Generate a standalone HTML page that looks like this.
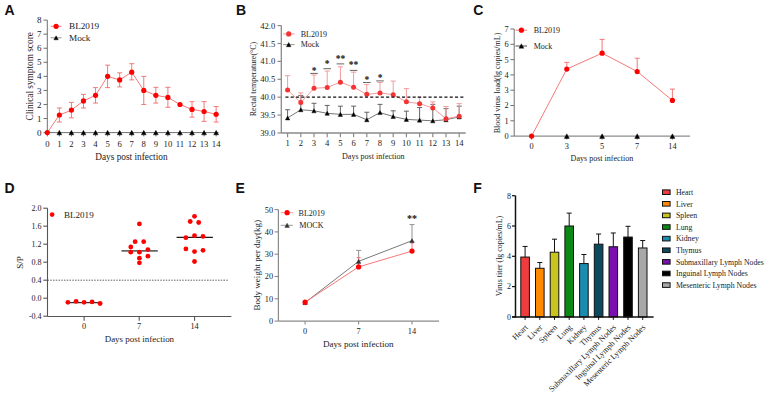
<!DOCTYPE html><html><head><meta charset="utf-8"><style>html,body{margin:0;padding:0;background:#fff;overflow:hidden}svg{display:block}text{font-family:"Liberation Serif",serif}</style></head><body>
<svg width="767" height="394" viewBox="0 0 767 394">
<rect width="767" height="394" fill="#fff"/>
<text x="4.5" y="14.7" font-size="14" font-weight="bold" fill="#111" style="font-family:'Liberation Sans',sans-serif">A</text>
<line x1="47.30" y1="20.12" x2="47.30" y2="132.60" stroke="#707070" stroke-width="1"/>
<line x1="47.30" y1="132.60" x2="218.60" y2="132.60" stroke="#707070" stroke-width="1"/>
<line x1="43.50" y1="132.60" x2="47.30" y2="132.60" stroke="#707070" stroke-width="1"/>
<text x="41.40" y="135.70" font-size="9" text-anchor="end" fill="#222">0</text>
<line x1="43.50" y1="118.54" x2="47.30" y2="118.54" stroke="#707070" stroke-width="1"/>
<text x="41.40" y="121.64" font-size="9" text-anchor="end" fill="#222">1</text>
<line x1="43.50" y1="104.48" x2="47.30" y2="104.48" stroke="#707070" stroke-width="1"/>
<text x="41.40" y="107.58" font-size="9" text-anchor="end" fill="#222">2</text>
<line x1="43.50" y1="90.42" x2="47.30" y2="90.42" stroke="#707070" stroke-width="1"/>
<text x="41.40" y="93.52" font-size="9" text-anchor="end" fill="#222">3</text>
<line x1="43.50" y1="76.36" x2="47.30" y2="76.36" stroke="#707070" stroke-width="1"/>
<text x="41.40" y="79.46" font-size="9" text-anchor="end" fill="#222">4</text>
<line x1="43.50" y1="62.30" x2="47.30" y2="62.30" stroke="#707070" stroke-width="1"/>
<text x="41.40" y="65.40" font-size="9" text-anchor="end" fill="#222">5</text>
<line x1="43.50" y1="48.24" x2="47.30" y2="48.24" stroke="#707070" stroke-width="1"/>
<text x="41.40" y="51.34" font-size="9" text-anchor="end" fill="#222">6</text>
<line x1="43.50" y1="34.18" x2="47.30" y2="34.18" stroke="#707070" stroke-width="1"/>
<text x="41.40" y="37.28" font-size="9" text-anchor="end" fill="#222">7</text>
<line x1="43.50" y1="20.12" x2="47.30" y2="20.12" stroke="#707070" stroke-width="1"/>
<text x="41.40" y="23.22" font-size="9" text-anchor="end" fill="#222">8</text>
<line x1="47.30" y1="132.60" x2="47.30" y2="136.40" stroke="#707070" stroke-width="1"/>
<text x="47.30" y="147.00" font-size="8.7" text-anchor="middle" fill="#222">0</text>
<line x1="59.36" y1="132.60" x2="59.36" y2="136.40" stroke="#707070" stroke-width="1"/>
<text x="59.36" y="147.00" font-size="8.7" text-anchor="middle" fill="#222">1</text>
<line x1="71.42" y1="132.60" x2="71.42" y2="136.40" stroke="#707070" stroke-width="1"/>
<text x="71.42" y="147.00" font-size="8.7" text-anchor="middle" fill="#222">2</text>
<line x1="83.48" y1="132.60" x2="83.48" y2="136.40" stroke="#707070" stroke-width="1"/>
<text x="83.48" y="147.00" font-size="8.7" text-anchor="middle" fill="#222">3</text>
<line x1="95.54" y1="132.60" x2="95.54" y2="136.40" stroke="#707070" stroke-width="1"/>
<text x="95.54" y="147.00" font-size="8.7" text-anchor="middle" fill="#222">4</text>
<line x1="107.60" y1="132.60" x2="107.60" y2="136.40" stroke="#707070" stroke-width="1"/>
<text x="107.60" y="147.00" font-size="8.7" text-anchor="middle" fill="#222">5</text>
<line x1="119.66" y1="132.60" x2="119.66" y2="136.40" stroke="#707070" stroke-width="1"/>
<text x="119.66" y="147.00" font-size="8.7" text-anchor="middle" fill="#222">6</text>
<line x1="131.72" y1="132.60" x2="131.72" y2="136.40" stroke="#707070" stroke-width="1"/>
<text x="131.72" y="147.00" font-size="8.7" text-anchor="middle" fill="#222">7</text>
<line x1="143.78" y1="132.60" x2="143.78" y2="136.40" stroke="#707070" stroke-width="1"/>
<text x="143.78" y="147.00" font-size="8.7" text-anchor="middle" fill="#222">8</text>
<line x1="155.84" y1="132.60" x2="155.84" y2="136.40" stroke="#707070" stroke-width="1"/>
<text x="155.84" y="147.00" font-size="8.7" text-anchor="middle" fill="#222">9</text>
<line x1="167.90" y1="132.60" x2="167.90" y2="136.40" stroke="#707070" stroke-width="1"/>
<text x="167.90" y="147.00" font-size="8.7" text-anchor="middle" fill="#222">10</text>
<line x1="179.96" y1="132.60" x2="179.96" y2="136.40" stroke="#707070" stroke-width="1"/>
<text x="179.96" y="147.00" font-size="8.7" text-anchor="middle" fill="#222">11</text>
<line x1="192.02" y1="132.60" x2="192.02" y2="136.40" stroke="#707070" stroke-width="1"/>
<text x="192.02" y="147.00" font-size="8.7" text-anchor="middle" fill="#222">12</text>
<line x1="204.08" y1="132.60" x2="204.08" y2="136.40" stroke="#707070" stroke-width="1"/>
<text x="204.08" y="147.00" font-size="8.7" text-anchor="middle" fill="#222">13</text>
<line x1="216.14" y1="132.60" x2="216.14" y2="136.40" stroke="#707070" stroke-width="1"/>
<text x="216.14" y="147.00" font-size="8.7" text-anchor="middle" fill="#222">14</text>
<text x="131.40" y="159.50" font-size="9.3" text-anchor="middle" fill="#222">Days post infection</text>
<text x="32.60" y="76.30" font-size="9.3" text-anchor="middle" fill="#222" transform="rotate(-90 32.6 76.3)">Clinical symptom score</text>
<polyline points="47.30,132.60 59.36,115.02 71.42,110.10 83.48,100.96 95.54,95.34 107.60,76.36 119.66,79.88 131.72,72.14 143.78,90.42 155.84,95.34 167.90,97.45 179.96,104.48 192.02,109.40 204.08,111.51 216.14,114.32" fill="none" stroke="#f36a6a" stroke-width="0.9"/>
<line x1="59.36" y1="115.02" x2="59.36" y2="107.99" stroke="#f36a6a" stroke-width="0.9"/>
<line x1="56.86" y1="107.99" x2="61.86" y2="107.99" stroke="#f36a6a" stroke-width="0.9"/>
<line x1="59.36" y1="115.02" x2="59.36" y2="122.05" stroke="#f36a6a" stroke-width="0.9"/>
<line x1="56.86" y1="122.05" x2="61.86" y2="122.05" stroke="#f36a6a" stroke-width="0.9"/>
<line x1="71.42" y1="110.10" x2="71.42" y2="102.37" stroke="#f36a6a" stroke-width="0.9"/>
<line x1="68.92" y1="102.37" x2="73.92" y2="102.37" stroke="#f36a6a" stroke-width="0.9"/>
<line x1="71.42" y1="110.10" x2="71.42" y2="117.84" stroke="#f36a6a" stroke-width="0.9"/>
<line x1="68.92" y1="117.84" x2="73.92" y2="117.84" stroke="#f36a6a" stroke-width="0.9"/>
<line x1="83.48" y1="100.96" x2="83.48" y2="94.36" stroke="#f36a6a" stroke-width="0.9"/>
<line x1="80.98" y1="94.36" x2="85.98" y2="94.36" stroke="#f36a6a" stroke-width="0.9"/>
<line x1="83.48" y1="100.96" x2="83.48" y2="107.99" stroke="#f36a6a" stroke-width="0.9"/>
<line x1="80.98" y1="107.99" x2="85.98" y2="107.99" stroke="#f36a6a" stroke-width="0.9"/>
<line x1="95.54" y1="95.34" x2="95.54" y2="87.61" stroke="#f36a6a" stroke-width="0.9"/>
<line x1="93.04" y1="87.61" x2="98.04" y2="87.61" stroke="#f36a6a" stroke-width="0.9"/>
<line x1="95.54" y1="95.34" x2="95.54" y2="103.07" stroke="#f36a6a" stroke-width="0.9"/>
<line x1="93.04" y1="103.07" x2="98.04" y2="103.07" stroke="#f36a6a" stroke-width="0.9"/>
<line x1="107.60" y1="76.36" x2="107.60" y2="65.11" stroke="#f36a6a" stroke-width="0.9"/>
<line x1="105.10" y1="65.11" x2="110.10" y2="65.11" stroke="#f36a6a" stroke-width="0.9"/>
<line x1="107.60" y1="76.36" x2="107.60" y2="87.61" stroke="#f36a6a" stroke-width="0.9"/>
<line x1="105.10" y1="87.61" x2="110.10" y2="87.61" stroke="#f36a6a" stroke-width="0.9"/>
<line x1="119.66" y1="79.88" x2="119.66" y2="72.84" stroke="#f36a6a" stroke-width="0.9"/>
<line x1="117.16" y1="72.84" x2="122.16" y2="72.84" stroke="#f36a6a" stroke-width="0.9"/>
<line x1="119.66" y1="79.88" x2="119.66" y2="86.91" stroke="#f36a6a" stroke-width="0.9"/>
<line x1="117.16" y1="86.91" x2="122.16" y2="86.91" stroke="#f36a6a" stroke-width="0.9"/>
<line x1="131.72" y1="72.14" x2="131.72" y2="63.71" stroke="#f36a6a" stroke-width="0.9"/>
<line x1="129.22" y1="63.71" x2="134.22" y2="63.71" stroke="#f36a6a" stroke-width="0.9"/>
<line x1="131.72" y1="72.14" x2="131.72" y2="79.88" stroke="#f36a6a" stroke-width="0.9"/>
<line x1="129.22" y1="79.88" x2="134.22" y2="79.88" stroke="#f36a6a" stroke-width="0.9"/>
<line x1="143.78" y1="90.42" x2="143.78" y2="76.36" stroke="#f36a6a" stroke-width="0.9"/>
<line x1="141.28" y1="76.36" x2="146.28" y2="76.36" stroke="#f36a6a" stroke-width="0.9"/>
<line x1="143.78" y1="90.42" x2="143.78" y2="104.48" stroke="#f36a6a" stroke-width="0.9"/>
<line x1="141.28" y1="104.48" x2="146.28" y2="104.48" stroke="#f36a6a" stroke-width="0.9"/>
<line x1="155.84" y1="95.34" x2="155.84" y2="87.33" stroke="#f36a6a" stroke-width="0.9"/>
<line x1="153.34" y1="87.33" x2="158.34" y2="87.33" stroke="#f36a6a" stroke-width="0.9"/>
<line x1="155.84" y1="95.34" x2="155.84" y2="103.07" stroke="#f36a6a" stroke-width="0.9"/>
<line x1="153.34" y1="103.07" x2="158.34" y2="103.07" stroke="#f36a6a" stroke-width="0.9"/>
<line x1="167.90" y1="97.45" x2="167.90" y2="87.33" stroke="#f36a6a" stroke-width="0.9"/>
<line x1="165.40" y1="87.33" x2="170.40" y2="87.33" stroke="#f36a6a" stroke-width="0.9"/>
<line x1="167.90" y1="97.45" x2="167.90" y2="107.29" stroke="#f36a6a" stroke-width="0.9"/>
<line x1="165.40" y1="107.29" x2="170.40" y2="107.29" stroke="#f36a6a" stroke-width="0.9"/>
<line x1="192.02" y1="109.40" x2="192.02" y2="101.67" stroke="#f36a6a" stroke-width="0.9"/>
<line x1="189.52" y1="101.67" x2="194.52" y2="101.67" stroke="#f36a6a" stroke-width="0.9"/>
<line x1="192.02" y1="109.40" x2="192.02" y2="117.13" stroke="#f36a6a" stroke-width="0.9"/>
<line x1="189.52" y1="117.13" x2="194.52" y2="117.13" stroke="#f36a6a" stroke-width="0.9"/>
<line x1="204.08" y1="111.51" x2="204.08" y2="101.67" stroke="#f36a6a" stroke-width="0.9"/>
<line x1="201.58" y1="101.67" x2="206.58" y2="101.67" stroke="#f36a6a" stroke-width="0.9"/>
<line x1="204.08" y1="111.51" x2="204.08" y2="121.35" stroke="#f36a6a" stroke-width="0.9"/>
<line x1="201.58" y1="121.35" x2="206.58" y2="121.35" stroke="#f36a6a" stroke-width="0.9"/>
<line x1="216.14" y1="114.32" x2="216.14" y2="106.59" stroke="#f36a6a" stroke-width="0.9"/>
<line x1="213.64" y1="106.59" x2="218.64" y2="106.59" stroke="#f36a6a" stroke-width="0.9"/>
<line x1="216.14" y1="114.32" x2="216.14" y2="122.05" stroke="#f36a6a" stroke-width="0.9"/>
<line x1="213.64" y1="122.05" x2="218.64" y2="122.05" stroke="#f36a6a" stroke-width="0.9"/>
<polygon points="56.91,134.85 61.81,134.85 59.36,130.35" fill="#000" stroke="#000" stroke-width="0.4" stroke-linejoin="miter"/>
<polygon points="68.97,134.85 73.87,134.85 71.42,130.35" fill="#000" stroke="#000" stroke-width="0.4" stroke-linejoin="miter"/>
<polygon points="81.03,134.85 85.93,134.85 83.48,130.35" fill="#000" stroke="#000" stroke-width="0.4" stroke-linejoin="miter"/>
<polygon points="93.09,134.85 97.99,134.85 95.54,130.35" fill="#000" stroke="#000" stroke-width="0.4" stroke-linejoin="miter"/>
<polygon points="105.15,134.85 110.05,134.85 107.60,130.35" fill="#000" stroke="#000" stroke-width="0.4" stroke-linejoin="miter"/>
<polygon points="117.21,134.85 122.11,134.85 119.66,130.35" fill="#000" stroke="#000" stroke-width="0.4" stroke-linejoin="miter"/>
<polygon points="129.27,134.85 134.17,134.85 131.72,130.35" fill="#000" stroke="#000" stroke-width="0.4" stroke-linejoin="miter"/>
<polygon points="141.33,134.85 146.23,134.85 143.78,130.35" fill="#000" stroke="#000" stroke-width="0.4" stroke-linejoin="miter"/>
<polygon points="153.39,134.85 158.29,134.85 155.84,130.35" fill="#000" stroke="#000" stroke-width="0.4" stroke-linejoin="miter"/>
<polygon points="165.45,134.85 170.35,134.85 167.90,130.35" fill="#000" stroke="#000" stroke-width="0.4" stroke-linejoin="miter"/>
<polygon points="177.51,134.85 182.41,134.85 179.96,130.35" fill="#000" stroke="#000" stroke-width="0.4" stroke-linejoin="miter"/>
<polygon points="189.57,134.85 194.47,134.85 192.02,130.35" fill="#000" stroke="#000" stroke-width="0.4" stroke-linejoin="miter"/>
<polygon points="201.63,134.85 206.53,134.85 204.08,130.35" fill="#000" stroke="#000" stroke-width="0.4" stroke-linejoin="miter"/>
<polygon points="213.69,134.85 218.59,134.85 216.14,130.35" fill="#000" stroke="#000" stroke-width="0.4" stroke-linejoin="miter"/>
<circle cx="47.30" cy="132.60" r="2.6" fill="#ff0000"/>
<circle cx="59.36" cy="115.02" r="2.6" fill="#ff0000"/>
<circle cx="71.42" cy="110.10" r="2.6" fill="#ff0000"/>
<circle cx="83.48" cy="100.96" r="2.6" fill="#ff0000"/>
<circle cx="95.54" cy="95.34" r="2.6" fill="#ff0000"/>
<circle cx="107.60" cy="76.36" r="2.6" fill="#ff0000"/>
<circle cx="119.66" cy="79.88" r="2.6" fill="#ff0000"/>
<circle cx="131.72" cy="72.14" r="2.6" fill="#ff0000"/>
<circle cx="143.78" cy="90.42" r="2.6" fill="#ff0000"/>
<circle cx="155.84" cy="95.34" r="2.6" fill="#ff0000"/>
<circle cx="167.90" cy="97.45" r="2.6" fill="#ff0000"/>
<circle cx="179.96" cy="104.48" r="2.6" fill="#ff0000"/>
<circle cx="192.02" cy="109.40" r="2.6" fill="#ff0000"/>
<circle cx="204.08" cy="111.51" r="2.6" fill="#ff0000"/>
<circle cx="216.14" cy="114.32" r="2.6" fill="#ff0000"/>
<line x1="50.70" y1="26.30" x2="61.50" y2="26.30" stroke="#f36a6a" stroke-width="0.9"/>
<circle cx="56.10" cy="26.30" r="2.6" fill="#ff0000"/>
<text x="69.00" y="29.30" font-size="9.2" text-anchor="start" fill="#222">BL2019</text>
<line x1="50.70" y1="37.80" x2="61.50" y2="37.80" stroke="#888" stroke-width="0.9"/>
<polygon points="53.90,39.82 58.30,39.82 56.10,35.78" fill="#000" stroke="#000" stroke-width="0.4" stroke-linejoin="miter"/>
<text x="69.00" y="40.80" font-size="9.2" text-anchor="start" fill="#222">Mock</text>
<text x="236.1" y="14.7" font-size="14" font-weight="bold" fill="#111" style="font-family:'Liberation Sans',sans-serif">B</text>
<line x1="281.30" y1="25.60" x2="281.30" y2="133.00" stroke="#8a8a8a" stroke-width="1.3"/>
<line x1="281.30" y1="133.00" x2="465.70" y2="133.00" stroke="#8a8a8a" stroke-width="1.3"/>
<line x1="277.50" y1="133.00" x2="281.30" y2="133.00" stroke="#8a8a8a" stroke-width="1.2"/>
<text x="275.30" y="136.00" font-size="8.6" text-anchor="end" fill="#222">39.0</text>
<line x1="277.50" y1="115.10" x2="281.30" y2="115.10" stroke="#8a8a8a" stroke-width="1.2"/>
<text x="275.30" y="118.10" font-size="8.6" text-anchor="end" fill="#222">39.5</text>
<line x1="277.50" y1="97.20" x2="281.30" y2="97.20" stroke="#8a8a8a" stroke-width="1.2"/>
<text x="275.30" y="100.20" font-size="8.6" text-anchor="end" fill="#222">40.0</text>
<line x1="277.50" y1="79.30" x2="281.30" y2="79.30" stroke="#8a8a8a" stroke-width="1.2"/>
<text x="275.30" y="82.30" font-size="8.6" text-anchor="end" fill="#222">40.5</text>
<line x1="277.50" y1="61.40" x2="281.30" y2="61.40" stroke="#8a8a8a" stroke-width="1.2"/>
<text x="275.30" y="64.40" font-size="8.6" text-anchor="end" fill="#222">41.0</text>
<line x1="277.50" y1="43.50" x2="281.30" y2="43.50" stroke="#8a8a8a" stroke-width="1.2"/>
<text x="275.30" y="46.50" font-size="8.6" text-anchor="end" fill="#222">41.5</text>
<line x1="277.50" y1="25.60" x2="281.30" y2="25.60" stroke="#8a8a8a" stroke-width="1.2"/>
<text x="275.30" y="28.60" font-size="8.6" text-anchor="end" fill="#222">42.0</text>
<line x1="287.60" y1="133.00" x2="287.60" y2="137.20" stroke="#8a8a8a" stroke-width="1.2"/>
<text x="287.60" y="145.50" font-size="8.6" text-anchor="middle" fill="#222">1</text>
<line x1="300.80" y1="133.00" x2="300.80" y2="137.20" stroke="#8a8a8a" stroke-width="1.2"/>
<text x="300.80" y="145.50" font-size="8.6" text-anchor="middle" fill="#222">2</text>
<line x1="314.00" y1="133.00" x2="314.00" y2="137.20" stroke="#8a8a8a" stroke-width="1.2"/>
<text x="314.00" y="145.50" font-size="8.6" text-anchor="middle" fill="#222">3</text>
<line x1="327.20" y1="133.00" x2="327.20" y2="137.20" stroke="#8a8a8a" stroke-width="1.2"/>
<text x="327.20" y="145.50" font-size="8.6" text-anchor="middle" fill="#222">4</text>
<line x1="340.40" y1="133.00" x2="340.40" y2="137.20" stroke="#8a8a8a" stroke-width="1.2"/>
<text x="340.40" y="145.50" font-size="8.6" text-anchor="middle" fill="#222">5</text>
<line x1="353.60" y1="133.00" x2="353.60" y2="137.20" stroke="#8a8a8a" stroke-width="1.2"/>
<text x="353.60" y="145.50" font-size="8.6" text-anchor="middle" fill="#222">6</text>
<line x1="366.80" y1="133.00" x2="366.80" y2="137.20" stroke="#8a8a8a" stroke-width="1.2"/>
<text x="366.80" y="145.50" font-size="8.6" text-anchor="middle" fill="#222">7</text>
<line x1="380.00" y1="133.00" x2="380.00" y2="137.20" stroke="#8a8a8a" stroke-width="1.2"/>
<text x="380.00" y="145.50" font-size="8.6" text-anchor="middle" fill="#222">8</text>
<line x1="393.20" y1="133.00" x2="393.20" y2="137.20" stroke="#8a8a8a" stroke-width="1.2"/>
<text x="393.20" y="145.50" font-size="8.6" text-anchor="middle" fill="#222">9</text>
<line x1="406.40" y1="133.00" x2="406.40" y2="137.20" stroke="#8a8a8a" stroke-width="1.2"/>
<text x="406.40" y="145.50" font-size="8.6" text-anchor="middle" fill="#222">10</text>
<line x1="419.60" y1="133.00" x2="419.60" y2="137.20" stroke="#8a8a8a" stroke-width="1.2"/>
<text x="419.60" y="145.50" font-size="8.6" text-anchor="middle" fill="#222">11</text>
<line x1="432.80" y1="133.00" x2="432.80" y2="137.20" stroke="#8a8a8a" stroke-width="1.2"/>
<text x="432.80" y="145.50" font-size="8.6" text-anchor="middle" fill="#222">12</text>
<line x1="446.00" y1="133.00" x2="446.00" y2="137.20" stroke="#8a8a8a" stroke-width="1.2"/>
<text x="446.00" y="145.50" font-size="8.6" text-anchor="middle" fill="#222">13</text>
<line x1="459.20" y1="133.00" x2="459.20" y2="137.20" stroke="#8a8a8a" stroke-width="1.2"/>
<text x="459.20" y="145.50" font-size="8.6" text-anchor="middle" fill="#222">14</text>
<text x="373.30" y="159.00" font-size="8.05" text-anchor="middle" fill="#222">Days post infection</text>
<text x="256.30" y="79.00" font-size="8.0" text-anchor="middle" fill="#222" transform="rotate(-90 256.3 79)">Rectal temperature(°C)</text>
<polyline points="287.60,117.96 300.80,109.73 314.00,110.80 327.20,113.31 340.40,114.38 353.60,114.38 366.80,119.75 380.00,112.59 393.20,116.53 406.40,119.40 419.60,120.11 432.80,120.83 446.00,119.75 459.20,116.89" fill="none" stroke="#777" stroke-width="1"/>
<line x1="287.60" y1="117.96" x2="287.60" y2="109.73" stroke="#555" stroke-width="0.9"/>
<line x1="285.10" y1="109.73" x2="290.10" y2="109.73" stroke="#555" stroke-width="0.9"/>
<line x1="300.80" y1="109.73" x2="300.80" y2="95.41" stroke="#555" stroke-width="0.9"/>
<line x1="298.30" y1="95.41" x2="303.30" y2="95.41" stroke="#555" stroke-width="0.9"/>
<line x1="314.00" y1="110.80" x2="314.00" y2="103.29" stroke="#555" stroke-width="0.9"/>
<line x1="311.50" y1="103.29" x2="316.50" y2="103.29" stroke="#555" stroke-width="0.9"/>
<line x1="327.20" y1="113.31" x2="327.20" y2="105.43" stroke="#555" stroke-width="0.9"/>
<line x1="324.70" y1="105.43" x2="329.70" y2="105.43" stroke="#555" stroke-width="0.9"/>
<line x1="340.40" y1="114.38" x2="340.40" y2="106.15" stroke="#555" stroke-width="0.9"/>
<line x1="337.90" y1="106.15" x2="342.90" y2="106.15" stroke="#555" stroke-width="0.9"/>
<line x1="353.60" y1="114.38" x2="353.60" y2="106.15" stroke="#555" stroke-width="0.9"/>
<line x1="351.10" y1="106.15" x2="356.10" y2="106.15" stroke="#555" stroke-width="0.9"/>
<line x1="366.80" y1="119.75" x2="366.80" y2="112.24" stroke="#555" stroke-width="0.9"/>
<line x1="364.30" y1="112.24" x2="369.30" y2="112.24" stroke="#555" stroke-width="0.9"/>
<line x1="380.00" y1="112.59" x2="380.00" y2="104.36" stroke="#555" stroke-width="0.9"/>
<line x1="377.50" y1="104.36" x2="382.50" y2="104.36" stroke="#555" stroke-width="0.9"/>
<line x1="393.20" y1="116.53" x2="393.20" y2="110.80" stroke="#555" stroke-width="0.9"/>
<line x1="390.70" y1="110.80" x2="395.70" y2="110.80" stroke="#555" stroke-width="0.9"/>
<line x1="406.40" y1="119.40" x2="406.40" y2="111.16" stroke="#555" stroke-width="0.9"/>
<line x1="403.90" y1="111.16" x2="408.90" y2="111.16" stroke="#555" stroke-width="0.9"/>
<line x1="419.60" y1="120.11" x2="419.60" y2="107.58" stroke="#555" stroke-width="0.9"/>
<line x1="417.10" y1="107.58" x2="422.10" y2="107.58" stroke="#555" stroke-width="0.9"/>
<line x1="432.80" y1="120.83" x2="432.80" y2="104.36" stroke="#555" stroke-width="0.9"/>
<line x1="430.30" y1="104.36" x2="435.30" y2="104.36" stroke="#555" stroke-width="0.9"/>
<line x1="446.00" y1="119.75" x2="446.00" y2="108.66" stroke="#555" stroke-width="0.9"/>
<line x1="443.50" y1="108.66" x2="448.50" y2="108.66" stroke="#555" stroke-width="0.9"/>
<line x1="459.20" y1="116.89" x2="459.20" y2="106.15" stroke="#555" stroke-width="0.9"/>
<line x1="456.70" y1="106.15" x2="461.70" y2="106.15" stroke="#555" stroke-width="0.9"/>
<polygon points="285.40,119.99 289.80,119.99 287.60,115.94" fill="#000" stroke="#000" stroke-width="0.4" stroke-linejoin="miter"/>
<polygon points="298.60,111.75 303.00,111.75 300.80,107.71" fill="#000" stroke="#000" stroke-width="0.4" stroke-linejoin="miter"/>
<polygon points="311.80,112.83 316.20,112.83 314.00,108.78" fill="#000" stroke="#000" stroke-width="0.4" stroke-linejoin="miter"/>
<polygon points="325.00,115.33 329.40,115.33 327.20,111.29" fill="#000" stroke="#000" stroke-width="0.4" stroke-linejoin="miter"/>
<polygon points="338.20,116.41 342.60,116.41 340.40,112.36" fill="#000" stroke="#000" stroke-width="0.4" stroke-linejoin="miter"/>
<polygon points="351.40,116.41 355.80,116.41 353.60,112.36" fill="#000" stroke="#000" stroke-width="0.4" stroke-linejoin="miter"/>
<polygon points="364.60,121.78 369.00,121.78 366.80,117.73" fill="#000" stroke="#000" stroke-width="0.4" stroke-linejoin="miter"/>
<polygon points="377.80,114.62 382.20,114.62 380.00,110.57" fill="#000" stroke="#000" stroke-width="0.4" stroke-linejoin="miter"/>
<polygon points="391.00,118.56 395.40,118.56 393.20,114.51" fill="#000" stroke="#000" stroke-width="0.4" stroke-linejoin="miter"/>
<polygon points="404.20,121.42 408.60,121.42 406.40,117.37" fill="#000" stroke="#000" stroke-width="0.4" stroke-linejoin="miter"/>
<polygon points="417.40,122.14 421.80,122.14 419.60,118.09" fill="#000" stroke="#000" stroke-width="0.4" stroke-linejoin="miter"/>
<polygon points="430.60,122.85 435.00,122.85 432.80,118.80" fill="#000" stroke="#000" stroke-width="0.4" stroke-linejoin="miter"/>
<polygon points="443.80,121.78 448.20,121.78 446.00,117.73" fill="#000" stroke="#000" stroke-width="0.4" stroke-linejoin="miter"/>
<polygon points="457.00,118.91 461.40,118.91 459.20,114.87" fill="#000" stroke="#000" stroke-width="0.4" stroke-linejoin="miter"/>
<polyline points="287.60,90.04 300.80,102.57 314.00,88.25 327.20,87.53 340.40,82.16 353.60,87.18 366.80,94.34 380.00,92.90 393.20,94.69 406.40,101.85 419.60,103.64 432.80,107.94 446.00,118.68 459.20,116.17" fill="none" stroke="#f49a9e" stroke-width="1"/>
<line x1="287.60" y1="90.04" x2="287.60" y2="75.72" stroke="#f49a9e" stroke-width="1"/>
<line x1="285.00" y1="75.72" x2="290.20" y2="75.72" stroke="#f49a9e" stroke-width="1"/>
<line x1="300.80" y1="102.57" x2="300.80" y2="92.90" stroke="#f49a9e" stroke-width="1"/>
<line x1="298.20" y1="92.90" x2="303.40" y2="92.90" stroke="#f49a9e" stroke-width="1"/>
<line x1="314.00" y1="88.25" x2="314.00" y2="75.00" stroke="#f49a9e" stroke-width="1"/>
<line x1="311.40" y1="75.00" x2="316.60" y2="75.00" stroke="#f49a9e" stroke-width="1"/>
<line x1="327.20" y1="87.53" x2="327.20" y2="71.07" stroke="#f49a9e" stroke-width="1"/>
<line x1="324.60" y1="71.07" x2="329.80" y2="71.07" stroke="#f49a9e" stroke-width="1"/>
<line x1="340.40" y1="82.16" x2="340.40" y2="66.77" stroke="#f49a9e" stroke-width="1"/>
<line x1="337.80" y1="66.77" x2="343.00" y2="66.77" stroke="#f49a9e" stroke-width="1"/>
<line x1="353.60" y1="87.18" x2="353.60" y2="72.14" stroke="#f49a9e" stroke-width="1"/>
<line x1="351.00" y1="72.14" x2="356.20" y2="72.14" stroke="#f49a9e" stroke-width="1"/>
<line x1="366.80" y1="94.34" x2="366.80" y2="84.67" stroke="#f49a9e" stroke-width="1"/>
<line x1="364.20" y1="84.67" x2="369.40" y2="84.67" stroke="#f49a9e" stroke-width="1"/>
<line x1="380.00" y1="92.90" x2="380.00" y2="82.52" stroke="#f49a9e" stroke-width="1"/>
<line x1="377.40" y1="82.52" x2="382.60" y2="82.52" stroke="#f49a9e" stroke-width="1"/>
<line x1="393.20" y1="94.69" x2="393.20" y2="81.09" stroke="#f49a9e" stroke-width="1"/>
<line x1="390.60" y1="81.09" x2="395.80" y2="81.09" stroke="#f49a9e" stroke-width="1"/>
<line x1="406.40" y1="101.85" x2="406.40" y2="88.61" stroke="#f49a9e" stroke-width="1"/>
<line x1="403.80" y1="88.61" x2="409.00" y2="88.61" stroke="#f49a9e" stroke-width="1"/>
<line x1="419.60" y1="103.64" x2="419.60" y2="97.20" stroke="#f49a9e" stroke-width="1"/>
<line x1="417.00" y1="97.20" x2="422.20" y2="97.20" stroke="#f49a9e" stroke-width="1"/>
<line x1="432.80" y1="107.94" x2="432.80" y2="101.85" stroke="#f49a9e" stroke-width="1"/>
<line x1="430.20" y1="101.85" x2="435.40" y2="101.85" stroke="#f49a9e" stroke-width="1"/>
<line x1="446.00" y1="118.68" x2="446.00" y2="106.51" stroke="#f49a9e" stroke-width="1"/>
<line x1="443.40" y1="106.51" x2="448.60" y2="106.51" stroke="#f49a9e" stroke-width="1"/>
<line x1="459.20" y1="116.17" x2="459.20" y2="103.64" stroke="#f49a9e" stroke-width="1"/>
<line x1="456.60" y1="103.64" x2="461.80" y2="103.64" stroke="#f49a9e" stroke-width="1"/>
<circle cx="287.60" cy="90.04" r="2.5" fill="#f23434"/>
<circle cx="300.80" cy="102.57" r="2.5" fill="#f23434"/>
<circle cx="314.00" cy="88.25" r="2.5" fill="#f23434"/>
<circle cx="327.20" cy="87.53" r="2.5" fill="#f23434"/>
<circle cx="340.40" cy="82.16" r="2.5" fill="#f23434"/>
<circle cx="353.60" cy="87.18" r="2.5" fill="#f23434"/>
<circle cx="366.80" cy="94.34" r="2.5" fill="#f23434"/>
<circle cx="380.00" cy="92.90" r="2.5" fill="#f23434"/>
<circle cx="393.20" cy="94.69" r="2.5" fill="#f23434"/>
<circle cx="406.40" cy="101.85" r="2.5" fill="#f23434"/>
<circle cx="419.60" cy="103.64" r="2.5" fill="#f23434"/>
<circle cx="432.80" cy="107.94" r="2.5" fill="#f23434"/>
<circle cx="446.00" cy="118.68" r="2.5" fill="#f23434"/>
<circle cx="459.20" cy="116.17" r="2.5" fill="#f23434"/>
<line x1="283.60" y1="97.20" x2="463.50" y2="97.20" stroke="#111" stroke-width="1.3" stroke-dasharray="3.1,2.2" stroke-dashoffset="3.5"/>
<line x1="310.20" y1="73.40" x2="317.80" y2="73.40" stroke="#666" stroke-width="1.0"/>
<text x="314.00" y="73.80" font-size="9.5" text-anchor="middle" fill="#111" font-weight="bold">*</text>
<line x1="323.40" y1="68.70" x2="331.00" y2="68.70" stroke="#666" stroke-width="1.0"/>
<text x="327.20" y="67.10" font-size="9.5" text-anchor="middle" fill="#111" font-weight="bold">*</text>
<line x1="336.60" y1="63.90" x2="344.20" y2="63.90" stroke="#666" stroke-width="1.0"/>
<text x="340.40" y="62.00" font-size="9.5" text-anchor="middle" fill="#111" font-weight="bold">**</text>
<line x1="349.80" y1="70.40" x2="357.40" y2="70.40" stroke="#666" stroke-width="1.0"/>
<text x="353.60" y="68.40" font-size="9.5" text-anchor="middle" fill="#111" font-weight="bold">**</text>
<line x1="363.00" y1="82.50" x2="370.60" y2="82.50" stroke="#666" stroke-width="1.0"/>
<text x="366.80" y="82.50" font-size="9.5" text-anchor="middle" fill="#111" font-weight="bold">*</text>
<line x1="376.20" y1="80.90" x2="383.80" y2="80.90" stroke="#666" stroke-width="1.0"/>
<text x="380.00" y="81.20" font-size="9.5" text-anchor="middle" fill="#111" font-weight="bold">*</text>
<line x1="283.00" y1="33.90" x2="294.50" y2="33.90" stroke="#f49a9e" stroke-width="1"/>
<circle cx="288.70" cy="33.90" r="2.6" fill="#f23434"/>
<text x="300.70" y="36.80" font-size="8.0" text-anchor="start" fill="#222">BL2019</text>
<line x1="283.00" y1="44.60" x2="294.50" y2="44.60" stroke="#888" stroke-width="0.9"/>
<polygon points="286.40,46.72 291.00,46.72 288.70,42.48" fill="#000" stroke="#000" stroke-width="0.4" stroke-linejoin="miter"/>
<text x="300.70" y="47.30" font-size="8.0" text-anchor="start" fill="#222">Mock</text>
<text x="473.2" y="14.7" font-size="14" font-weight="bold" fill="#111" style="font-family:'Liberation Sans',sans-serif">C</text>
<line x1="514.20" y1="29.00" x2="514.20" y2="136.10" stroke="#707070" stroke-width="1"/>
<line x1="514.20" y1="136.10" x2="690.00" y2="136.10" stroke="#707070" stroke-width="1"/>
<line x1="510.40" y1="136.10" x2="514.20" y2="136.10" stroke="#707070" stroke-width="1"/>
<text x="508.60" y="139.00" font-size="8.3" text-anchor="end" fill="#222">0</text>
<line x1="510.40" y1="120.80" x2="514.20" y2="120.80" stroke="#707070" stroke-width="1"/>
<text x="508.60" y="123.70" font-size="8.3" text-anchor="end" fill="#222">1</text>
<line x1="510.40" y1="105.50" x2="514.20" y2="105.50" stroke="#707070" stroke-width="1"/>
<text x="508.60" y="108.40" font-size="8.3" text-anchor="end" fill="#222">2</text>
<line x1="510.40" y1="90.20" x2="514.20" y2="90.20" stroke="#707070" stroke-width="1"/>
<text x="508.60" y="93.10" font-size="8.3" text-anchor="end" fill="#222">3</text>
<line x1="510.40" y1="74.90" x2="514.20" y2="74.90" stroke="#707070" stroke-width="1"/>
<text x="508.60" y="77.80" font-size="8.3" text-anchor="end" fill="#222">4</text>
<line x1="510.40" y1="59.60" x2="514.20" y2="59.60" stroke="#707070" stroke-width="1"/>
<text x="508.60" y="62.50" font-size="8.3" text-anchor="end" fill="#222">5</text>
<line x1="510.40" y1="44.30" x2="514.20" y2="44.30" stroke="#707070" stroke-width="1"/>
<text x="508.60" y="47.20" font-size="8.3" text-anchor="end" fill="#222">6</text>
<line x1="510.40" y1="29.00" x2="514.20" y2="29.00" stroke="#707070" stroke-width="1"/>
<text x="508.60" y="31.90" font-size="8.3" text-anchor="end" fill="#222">7</text>
<line x1="531.60" y1="136.10" x2="531.60" y2="139.60" stroke="#707070" stroke-width="1"/>
<text x="531.60" y="148.70" font-size="8.3" text-anchor="middle" fill="#222">0</text>
<line x1="566.80" y1="136.10" x2="566.80" y2="139.60" stroke="#707070" stroke-width="1"/>
<text x="566.80" y="148.70" font-size="8.3" text-anchor="middle" fill="#222">3</text>
<line x1="602.10" y1="136.10" x2="602.10" y2="139.60" stroke="#707070" stroke-width="1"/>
<text x="602.10" y="148.70" font-size="8.3" text-anchor="middle" fill="#222">5</text>
<line x1="637.20" y1="136.10" x2="637.20" y2="139.60" stroke="#707070" stroke-width="1"/>
<text x="637.20" y="148.70" font-size="8.3" text-anchor="middle" fill="#222">7</text>
<line x1="672.40" y1="136.10" x2="672.40" y2="139.60" stroke="#707070" stroke-width="1"/>
<text x="672.40" y="148.70" font-size="8.3" text-anchor="middle" fill="#222">14</text>
<text x="601.90" y="161.00" font-size="8.05" text-anchor="middle" fill="#222">Days post infection</text>
<text x="499.80" y="83.00" font-size="8.0" text-anchor="middle" fill="#222" transform="rotate(-90 499.8 83)">Blood virus load(lg copies/mL)</text>
<polyline points="531.60,136.10 566.80,69.09 602.10,53.17 637.20,71.53 672.40,100.45" fill="none" stroke="#f36a6a" stroke-width="0.9"/>
<line x1="566.80" y1="69.09" x2="566.80" y2="62.35" stroke="#f36a6a" stroke-width="0.9"/>
<line x1="564.30" y1="62.35" x2="569.30" y2="62.35" stroke="#f36a6a" stroke-width="0.9"/>
<line x1="602.10" y1="53.17" x2="602.10" y2="39.40" stroke="#f36a6a" stroke-width="0.9"/>
<line x1="599.60" y1="39.40" x2="604.60" y2="39.40" stroke="#f36a6a" stroke-width="0.9"/>
<line x1="637.20" y1="71.53" x2="637.20" y2="58.22" stroke="#f36a6a" stroke-width="0.9"/>
<line x1="634.70" y1="58.22" x2="639.70" y2="58.22" stroke="#f36a6a" stroke-width="0.9"/>
<line x1="672.40" y1="100.45" x2="672.40" y2="89.13" stroke="#f36a6a" stroke-width="0.9"/>
<line x1="669.90" y1="89.13" x2="674.90" y2="89.13" stroke="#f36a6a" stroke-width="0.9"/>
<polygon points="564.30,138.40 569.30,138.40 566.80,133.80" fill="#000" stroke="#000" stroke-width="0.4" stroke-linejoin="miter"/>
<polygon points="599.60,138.40 604.60,138.40 602.10,133.80" fill="#000" stroke="#000" stroke-width="0.4" stroke-linejoin="miter"/>
<polygon points="634.70,138.40 639.70,138.40 637.20,133.80" fill="#000" stroke="#000" stroke-width="0.4" stroke-linejoin="miter"/>
<polygon points="669.90,138.40 674.90,138.40 672.40,133.80" fill="#000" stroke="#000" stroke-width="0.4" stroke-linejoin="miter"/>
<circle cx="531.60" cy="136.10" r="2.6" fill="#ff0000"/>
<circle cx="566.80" cy="69.09" r="2.6" fill="#ff0000"/>
<circle cx="602.10" cy="53.17" r="2.6" fill="#ff0000"/>
<circle cx="637.20" cy="71.53" r="2.6" fill="#ff0000"/>
<circle cx="672.40" cy="100.45" r="2.6" fill="#ff0000"/>
<line x1="515.50" y1="30.20" x2="527.00" y2="30.20" stroke="#f36a6a" stroke-width="0.9"/>
<circle cx="521.40" cy="30.20" r="2.6" fill="#ff0000"/>
<text x="533.70" y="33.10" font-size="8.0" text-anchor="start" fill="#222">BL2019</text>
<line x1="515.50" y1="46.00" x2="527.00" y2="46.00" stroke="#333" stroke-width="0.9"/>
<polygon points="519.00,48.21 523.80,48.21 521.40,43.79" fill="#000" stroke="#000" stroke-width="0.4" stroke-linejoin="miter"/>
<text x="533.70" y="48.90" font-size="8.0" text-anchor="start" fill="#222">Mock</text>
<text x="4.6" y="192.9" font-size="14" font-weight="bold" fill="#111" style="font-family:'Liberation Sans',sans-serif">D</text>
<line x1="47.50" y1="208.20" x2="47.50" y2="316.50" stroke="#555" stroke-width="1.1"/>
<line x1="47.50" y1="316.50" x2="231.40" y2="316.50" stroke="#555" stroke-width="1.1"/>
<line x1="43.30" y1="316.20" x2="47.50" y2="316.20" stroke="#555" stroke-width="1.1"/>
<text x="41.60" y="319.40" font-size="8.0" text-anchor="end" fill="#222">-0.4</text>
<line x1="43.30" y1="298.20" x2="47.50" y2="298.20" stroke="#555" stroke-width="1.1"/>
<text x="41.60" y="301.40" font-size="8.0" text-anchor="end" fill="#222">0.0</text>
<line x1="43.30" y1="280.20" x2="47.50" y2="280.20" stroke="#555" stroke-width="1.1"/>
<text x="41.60" y="283.40" font-size="8.0" text-anchor="end" fill="#222">0.4</text>
<line x1="43.30" y1="262.20" x2="47.50" y2="262.20" stroke="#555" stroke-width="1.1"/>
<text x="41.60" y="265.40" font-size="8.0" text-anchor="end" fill="#222">0.8</text>
<line x1="43.30" y1="244.20" x2="47.50" y2="244.20" stroke="#555" stroke-width="1.1"/>
<text x="41.60" y="247.40" font-size="8.0" text-anchor="end" fill="#222">1.2</text>
<line x1="43.30" y1="226.20" x2="47.50" y2="226.20" stroke="#555" stroke-width="1.1"/>
<text x="41.60" y="229.40" font-size="8.0" text-anchor="end" fill="#222">1.6</text>
<line x1="43.30" y1="208.20" x2="47.50" y2="208.20" stroke="#555" stroke-width="1.1"/>
<text x="41.60" y="211.40" font-size="8.0" text-anchor="end" fill="#222">2.0</text>
<line x1="84.10" y1="316.50" x2="84.10" y2="320.70" stroke="#555" stroke-width="1.1"/>
<text x="84.10" y="329.20" font-size="8.3" text-anchor="middle" fill="#222">0</text>
<line x1="139.20" y1="316.50" x2="139.20" y2="320.70" stroke="#555" stroke-width="1.1"/>
<text x="139.20" y="329.20" font-size="8.3" text-anchor="middle" fill="#222">7</text>
<line x1="194.60" y1="316.50" x2="194.60" y2="320.70" stroke="#555" stroke-width="1.1"/>
<text x="194.60" y="329.20" font-size="8.3" text-anchor="middle" fill="#222">14</text>
<text x="139.40" y="342.20" font-size="8.93" text-anchor="middle" fill="#222">Days post infection</text>
<text x="23.20" y="262.60" font-size="9.0" text-anchor="middle" fill="#222" transform="rotate(-90 23.2 262.6)">S/P</text>
<line x1="47.50" y1="280.20" x2="227.80" y2="280.20" stroke="#444" stroke-width="0.85" stroke-dasharray="1.5,1.25"/>
<line x1="67.00" y1="302.60" x2="101.00" y2="302.60" stroke="#333" stroke-width="1.4"/>
<line x1="121.50" y1="250.90" x2="157.80" y2="250.90" stroke="#666" stroke-width="1.6"/>
<line x1="176.60" y1="237.30" x2="212.90" y2="237.30" stroke="#1a1a1a" stroke-width="1.2"/>
<circle cx="67.90" cy="302.30" r="2.4" fill="#ff0000"/>
<circle cx="76.10" cy="301.40" r="2.4" fill="#ff0000"/>
<circle cx="84.10" cy="302.30" r="2.4" fill="#ff0000"/>
<circle cx="92.10" cy="301.90" r="2.4" fill="#ff0000"/>
<circle cx="100.10" cy="303.50" r="2.4" fill="#ff0000"/>
<circle cx="139.40" cy="223.90" r="2.4" fill="#ff0000"/>
<circle cx="135.10" cy="241.70" r="2.4" fill="#ff0000"/>
<circle cx="143.70" cy="241.70" r="2.4" fill="#ff0000"/>
<circle cx="130.80" cy="247.00" r="2.4" fill="#ff0000"/>
<circle cx="130.80" cy="252.20" r="2.4" fill="#ff0000"/>
<circle cx="139.40" cy="252.20" r="2.4" fill="#ff0000"/>
<circle cx="147.90" cy="249.60" r="2.4" fill="#ff0000"/>
<circle cx="147.90" cy="256.20" r="2.4" fill="#ff0000"/>
<circle cx="139.40" cy="258.20" r="2.4" fill="#ff0000"/>
<circle cx="139.40" cy="262.80" r="2.4" fill="#ff0000"/>
<circle cx="194.50" cy="216.30" r="2.4" fill="#ff0000"/>
<circle cx="190.20" cy="221.50" r="2.4" fill="#ff0000"/>
<circle cx="198.70" cy="222.50" r="2.4" fill="#ff0000"/>
<circle cx="185.90" cy="237.70" r="2.4" fill="#ff0000"/>
<circle cx="194.50" cy="235.70" r="2.4" fill="#ff0000"/>
<circle cx="203.00" cy="236.40" r="2.4" fill="#ff0000"/>
<circle cx="185.90" cy="248.90" r="2.4" fill="#ff0000"/>
<circle cx="194.50" cy="251.60" r="2.4" fill="#ff0000"/>
<circle cx="203.00" cy="250.30" r="2.4" fill="#ff0000"/>
<circle cx="194.50" cy="261.50" r="2.4" fill="#ff0000"/>
<circle cx="52.10" cy="214.60" r="2.3" fill="#ff0000"/>
<text x="64.00" y="217.70" font-size="9.06" text-anchor="start" fill="#222">BL2019</text>
<text x="235.5" y="192.9" font-size="14" font-weight="bold" fill="#111" style="font-family:'Liberation Sans',sans-serif">E</text>
<line x1="278.40" y1="209.60" x2="278.40" y2="321.10" stroke="#8a8a8a" stroke-width="1.2"/>
<line x1="278.40" y1="321.10" x2="439.00" y2="321.10" stroke="#8a8a8a" stroke-width="1.2"/>
<line x1="274.60" y1="321.10" x2="278.40" y2="321.10" stroke="#8a8a8a" stroke-width="1.1"/>
<text x="273.10" y="324.00" font-size="8.3" text-anchor="end" fill="#222">0</text>
<line x1="274.60" y1="298.80" x2="278.40" y2="298.80" stroke="#8a8a8a" stroke-width="1.1"/>
<text x="273.10" y="301.70" font-size="8.3" text-anchor="end" fill="#222">10</text>
<line x1="274.60" y1="276.50" x2="278.40" y2="276.50" stroke="#8a8a8a" stroke-width="1.1"/>
<text x="273.10" y="279.40" font-size="8.3" text-anchor="end" fill="#222">20</text>
<line x1="274.60" y1="254.20" x2="278.40" y2="254.20" stroke="#8a8a8a" stroke-width="1.1"/>
<text x="273.10" y="257.10" font-size="8.3" text-anchor="end" fill="#222">30</text>
<line x1="274.60" y1="231.90" x2="278.40" y2="231.90" stroke="#8a8a8a" stroke-width="1.1"/>
<text x="273.10" y="234.80" font-size="8.3" text-anchor="end" fill="#222">40</text>
<line x1="274.60" y1="209.60" x2="278.40" y2="209.60" stroke="#8a8a8a" stroke-width="1.1"/>
<text x="273.10" y="212.50" font-size="8.3" text-anchor="end" fill="#222">50</text>
<line x1="305.10" y1="321.10" x2="305.10" y2="324.40" stroke="#8a8a8a" stroke-width="1.1"/>
<text x="305.10" y="334.10" font-size="8.3" text-anchor="middle" fill="#222">0</text>
<line x1="358.60" y1="321.10" x2="358.60" y2="324.40" stroke="#8a8a8a" stroke-width="1.1"/>
<text x="358.60" y="334.10" font-size="8.3" text-anchor="middle" fill="#222">7</text>
<line x1="412.00" y1="321.10" x2="412.00" y2="324.40" stroke="#8a8a8a" stroke-width="1.1"/>
<text x="412.00" y="334.10" font-size="8.3" text-anchor="middle" fill="#222">14</text>
<text x="358.30" y="347.00" font-size="9.1" text-anchor="middle" fill="#222">Days post infection</text>
<text x="259.90" y="265.20" font-size="9.05" text-anchor="middle" fill="#222" transform="rotate(-90 259.9 265.2)">Body weight per day(kg)</text>
<polyline points="305.10,302.59 358.60,261.34 412.00,240.71" fill="none" stroke="#6a6a6a" stroke-width="0.9"/>
<line x1="358.60" y1="261.34" x2="358.60" y2="250.41" stroke="#9a9a9a" stroke-width="1.1"/>
<line x1="356.10" y1="250.41" x2="361.10" y2="250.41" stroke="#9a9a9a" stroke-width="1.1"/>
<line x1="412.00" y1="240.71" x2="412.00" y2="224.54" stroke="#9a9a9a" stroke-width="1.1"/>
<line x1="409.50" y1="224.54" x2="414.50" y2="224.54" stroke="#9a9a9a" stroke-width="1.1"/>
<polyline points="305.10,302.15 358.60,266.91 412.00,251.08" fill="none" stroke="#f36a6a" stroke-width="0.9"/>
<line x1="358.60" y1="266.91" x2="358.60" y2="257.55" stroke="#f36a6a" stroke-width="0.9"/>
<line x1="356.60" y1="257.55" x2="360.60" y2="257.55" stroke="#f36a6a" stroke-width="0.9"/>
<line x1="412.00" y1="251.08" x2="412.00" y2="241.94" stroke="#f36a6a" stroke-width="0.9"/>
<line x1="410.00" y1="241.94" x2="414.00" y2="241.94" stroke="#f36a6a" stroke-width="0.9"/>
<polygon points="302.80,304.71 307.40,304.71 305.10,300.48" fill="#333" stroke="#333" stroke-width="0.4" stroke-linejoin="miter"/>
<polygon points="356.30,263.45 360.90,263.45 358.60,259.22" fill="#333" stroke="#333" stroke-width="0.4" stroke-linejoin="miter"/>
<polygon points="409.70,242.82 414.30,242.82 412.00,238.59" fill="#333" stroke="#333" stroke-width="0.4" stroke-linejoin="miter"/>
<circle cx="305.10" cy="302.15" r="2.6" fill="#ff0000"/>
<circle cx="358.60" cy="266.91" r="2.6" fill="#ff0000"/>
<circle cx="412.00" cy="251.08" r="2.6" fill="#ff0000"/>
<text x="412.00" y="222.00" font-size="10" text-anchor="middle" fill="#111" font-weight="bold">**</text>
<line x1="280.70" y1="212.70" x2="292.90" y2="212.70" stroke="#f59a9a" stroke-width="1"/>
<circle cx="287.10" cy="212.70" r="2.6" fill="#ff0000"/>
<text x="298.60" y="215.60" font-size="8.0" text-anchor="start" fill="#222">BL2019</text>
<line x1="280.70" y1="225.30" x2="292.90" y2="225.30" stroke="#999" stroke-width="1"/>
<polygon points="284.80,227.42 289.40,227.42 287.10,223.18" fill="#333" stroke="#333" stroke-width="0.4" stroke-linejoin="miter"/>
<text x="299.30" y="228.20" font-size="8.1" text-anchor="start" fill="#222">MOCK</text>
<text x="473.2" y="192.9" font-size="14" font-weight="bold" fill="#111" style="font-family:'Liberation Sans',sans-serif">F</text>
<line x1="525.10" y1="257.06" x2="525.10" y2="246.45" stroke="#111" stroke-width="1"/>
<line x1="522.60" y1="246.45" x2="527.60" y2="246.45" stroke="#111" stroke-width="1"/>
<rect x="520.80" y="257.06" width="8.6" height="59.84" fill="#f03c3c" stroke="#111" stroke-width="1"/>
<line x1="525.10" y1="316.90" x2="525.10" y2="319.90" stroke="#111" stroke-width="1"/>
<text x="528.30" y="327.80" font-size="8.1" text-anchor="end" fill="#222" transform="rotate(-45 528.3000000000001 327.8)">Heart</text>
<line x1="539.80" y1="268.27" x2="539.80" y2="262.51" stroke="#111" stroke-width="1"/>
<line x1="537.30" y1="262.51" x2="542.30" y2="262.51" stroke="#111" stroke-width="1"/>
<rect x="535.50" y="268.27" width="8.6" height="48.63" fill="#ff8a00" stroke="#111" stroke-width="1"/>
<line x1="539.80" y1="316.90" x2="539.80" y2="319.90" stroke="#111" stroke-width="1"/>
<text x="543.00" y="327.80" font-size="8.1" text-anchor="end" fill="#222" transform="rotate(-45 543.0000000000001 327.8)">Liver</text>
<line x1="554.50" y1="252.21" x2="554.50" y2="239.18" stroke="#111" stroke-width="1"/>
<line x1="552.00" y1="239.18" x2="557.00" y2="239.18" stroke="#111" stroke-width="1"/>
<rect x="550.20" y="252.21" width="8.6" height="64.69" fill="#c8c41e" stroke="#111" stroke-width="1"/>
<line x1="554.50" y1="316.90" x2="554.50" y2="319.90" stroke="#111" stroke-width="1"/>
<text x="557.70" y="327.80" font-size="8.1" text-anchor="end" fill="#222" transform="rotate(-45 557.7 327.8)">Spleen</text>
<line x1="569.20" y1="226.00" x2="569.20" y2="213.12" stroke="#111" stroke-width="1"/>
<line x1="566.70" y1="213.12" x2="571.70" y2="213.12" stroke="#111" stroke-width="1"/>
<rect x="564.90" y="226.00" width="8.6" height="90.90" fill="#0a8a14" stroke="#111" stroke-width="1"/>
<line x1="569.20" y1="316.90" x2="569.20" y2="319.90" stroke="#111" stroke-width="1"/>
<text x="572.40" y="327.80" font-size="8.1" text-anchor="end" fill="#222" transform="rotate(-45 572.4000000000001 327.8)">Lung</text>
<line x1="583.90" y1="263.57" x2="583.90" y2="254.48" stroke="#111" stroke-width="1"/>
<line x1="581.40" y1="254.48" x2="586.40" y2="254.48" stroke="#111" stroke-width="1"/>
<rect x="579.60" y="263.57" width="8.6" height="53.33" fill="#1a8cb0" stroke="#111" stroke-width="1"/>
<line x1="583.90" y1="316.90" x2="583.90" y2="319.90" stroke="#111" stroke-width="1"/>
<text x="587.10" y="327.80" font-size="8.1" text-anchor="end" fill="#222" transform="rotate(-45 587.1 327.8)">Kidney</text>
<line x1="598.60" y1="244.18" x2="598.60" y2="234.03" stroke="#111" stroke-width="1"/>
<line x1="596.10" y1="234.03" x2="601.10" y2="234.03" stroke="#111" stroke-width="1"/>
<rect x="594.30" y="244.18" width="8.6" height="72.72" fill="#0b4a5e" stroke="#111" stroke-width="1"/>
<line x1="598.60" y1="316.90" x2="598.60" y2="319.90" stroke="#111" stroke-width="1"/>
<text x="601.80" y="327.80" font-size="8.1" text-anchor="end" fill="#222" transform="rotate(-45 601.8000000000001 327.8)">Thymus</text>
<line x1="613.30" y1="246.76" x2="613.30" y2="232.97" stroke="#111" stroke-width="1"/>
<line x1="610.80" y1="232.97" x2="615.80" y2="232.97" stroke="#111" stroke-width="1"/>
<rect x="609.00" y="246.76" width="8.6" height="70.14" fill="#7a10b0" stroke="#111" stroke-width="1"/>
<line x1="613.30" y1="316.90" x2="613.30" y2="319.90" stroke="#111" stroke-width="1"/>
<text x="616.50" y="327.80" font-size="8.1" text-anchor="end" fill="#222" transform="rotate(-45 616.5 327.8)">Submaxillary Lymph Nodes</text>
<line x1="628.00" y1="237.06" x2="628.00" y2="226.30" stroke="#111" stroke-width="1"/>
<line x1="625.50" y1="226.30" x2="630.50" y2="226.30" stroke="#111" stroke-width="1"/>
<rect x="623.70" y="237.06" width="8.6" height="79.84" fill="#000000" stroke="#111" stroke-width="1"/>
<line x1="628.00" y1="316.90" x2="628.00" y2="319.90" stroke="#111" stroke-width="1"/>
<text x="631.20" y="327.80" font-size="8.1" text-anchor="end" fill="#222" transform="rotate(-45 631.2 327.8)">Inguinal Lymph Nodes</text>
<line x1="642.70" y1="247.97" x2="642.70" y2="240.54" stroke="#111" stroke-width="1"/>
<line x1="640.20" y1="240.54" x2="645.20" y2="240.54" stroke="#111" stroke-width="1"/>
<rect x="638.40" y="247.97" width="8.6" height="68.93" fill="#a8a8a8" stroke="#111" stroke-width="1"/>
<line x1="642.70" y1="316.90" x2="642.70" y2="319.90" stroke="#111" stroke-width="1"/>
<text x="645.90" y="327.80" font-size="8.1" text-anchor="end" fill="#222" transform="rotate(-45 645.9000000000001 327.8)">Mesenteric Lymph Nodes</text>
<line x1="515.50" y1="195.70" x2="515.50" y2="317.70" stroke="#111" stroke-width="1.5"/>
<line x1="512.00" y1="316.90" x2="653.60" y2="316.90" stroke="#111" stroke-width="1.5"/>
<line x1="512.00" y1="316.90" x2="515.50" y2="316.90" stroke="#111" stroke-width="1.2"/>
<text x="511.00" y="319.70" font-size="8.0" text-anchor="end" fill="#222">0</text>
<line x1="512.00" y1="286.60" x2="515.50" y2="286.60" stroke="#111" stroke-width="1.2"/>
<text x="511.00" y="289.40" font-size="8.0" text-anchor="end" fill="#222">2</text>
<line x1="512.00" y1="256.30" x2="515.50" y2="256.30" stroke="#111" stroke-width="1.2"/>
<text x="511.00" y="259.10" font-size="8.0" text-anchor="end" fill="#222">4</text>
<line x1="512.00" y1="226.00" x2="515.50" y2="226.00" stroke="#111" stroke-width="1.2"/>
<text x="511.00" y="228.80" font-size="8.0" text-anchor="end" fill="#222">6</text>
<line x1="512.00" y1="195.70" x2="515.50" y2="195.70" stroke="#111" stroke-width="1.2"/>
<text x="511.00" y="198.50" font-size="8.0" text-anchor="end" fill="#222">8</text>
<text x="502.40" y="256.00" font-size="7.9" text-anchor="middle" fill="#222" transform="rotate(-90 502.4 256)">Virus titer (lg copies/mL)</text>
<rect x="662.5" y="189.90" width="7.6" height="4.6" fill="#f03c3c" stroke="#111" stroke-width="1"/>
<text x="675.90" y="195.00" font-size="7.8" text-anchor="start" fill="#222">Heart</text>
<rect x="662.5" y="201.51" width="7.6" height="4.6" fill="#ff8a00" stroke="#111" stroke-width="1"/>
<text x="675.90" y="206.61" font-size="7.8" text-anchor="start" fill="#222">Liver</text>
<rect x="662.5" y="213.12" width="7.6" height="4.6" fill="#c8c41e" stroke="#111" stroke-width="1"/>
<text x="675.90" y="218.22" font-size="7.8" text-anchor="start" fill="#222">Spleen</text>
<rect x="662.5" y="224.73" width="7.6" height="4.6" fill="#0a8a14" stroke="#111" stroke-width="1"/>
<text x="675.90" y="229.83" font-size="7.8" text-anchor="start" fill="#222">Lung</text>
<rect x="662.5" y="236.34" width="7.6" height="4.6" fill="#1a8cb0" stroke="#111" stroke-width="1"/>
<text x="675.90" y="241.44" font-size="7.8" text-anchor="start" fill="#222">Kidney</text>
<rect x="662.5" y="247.95" width="7.6" height="4.6" fill="#0b4a5e" stroke="#111" stroke-width="1"/>
<text x="675.90" y="253.05" font-size="7.8" text-anchor="start" fill="#222">Thymus</text>
<rect x="662.5" y="259.56" width="7.6" height="4.6" fill="#7a10b0" stroke="#111" stroke-width="1"/>
<text x="675.90" y="264.66" font-size="7.8" text-anchor="start" fill="#222">Submaxillary Lymph Nodes</text>
<rect x="662.5" y="271.17" width="7.6" height="4.6" fill="#000000" stroke="#111" stroke-width="1"/>
<text x="675.90" y="276.27" font-size="7.8" text-anchor="start" fill="#222">Inguinal Lymph Nodes</text>
<rect x="662.5" y="282.78" width="7.6" height="4.6" fill="#a8a8a8" stroke="#111" stroke-width="1"/>
<text x="675.90" y="287.88" font-size="7.8" text-anchor="start" fill="#222">Mesenteric Lymph Nodes</text>
</svg></body></html>
